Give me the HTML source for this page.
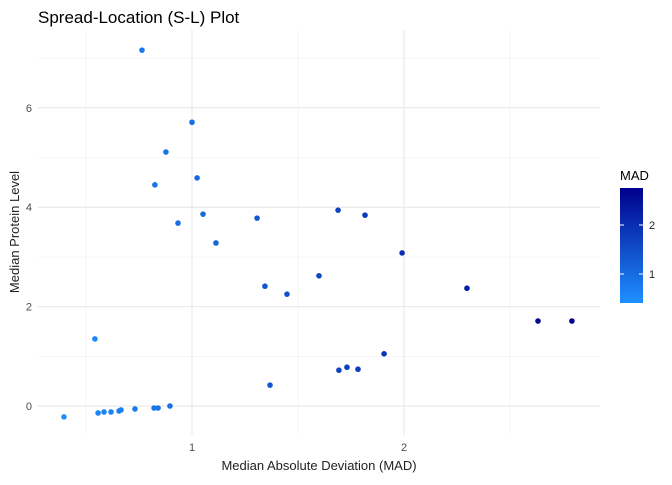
<!DOCTYPE html>
<html><head><meta charset="utf-8"><style>
body{margin:0;background:#fff;font-family:"Liberation Sans",sans-serif}
</style></head><body>
<svg id="chart" width="672" height="480" xmlns="http://www.w3.org/2000/svg">
<defs><linearGradient id="grad" x1="0" y1="1" x2="0" y2="0">
<stop offset="0" stop-color="#1E90FF"/><stop offset="1" stop-color="#00008B"/></linearGradient></defs>
<text x="38" y="23" font-size="17" fill="#000">Spread-Location (S-L) Plot</text>
<g id="grid"></g>
<g id="points"></g>
<text x="319" y="470" font-size="13" text-anchor="middle" fill="#222">Median Absolute Deviation (MAD)</text>
<text transform="translate(19,232) rotate(-90)" font-size="13" text-anchor="middle" fill="#222">Median Protein Level</text>
<g>
<text x="620" y="180" font-size="13" fill="#000">MAD</text>
<rect x="620" y="188" width="23" height="115" fill="url(#grad)"/>
<g id="legticks"></g>
</g>
</svg>
<script>
const madValues=[0.396,0.542,0.557,0.585,0.618,0.656,0.665,0.731,0.764,0.821,0.825,0.840,0.877,0.896,0.934,1.0,1.024,1.052,1.113,1.307,1.344,1.368,1.448,1.599,1.689,1.693,1.731,1.783,1.816,1.906,1.991,2.297,2.632,2.792];
const medianValues=[-0.22,1.35,-0.14,-0.12,-0.12,-0.10,-0.08,-0.06,7.16,-0.04,4.45,-0.04,5.11,0.0,3.68,5.71,4.59,3.86,3.28,3.78,2.41,0.42,2.25,2.62,3.94,0.72,0.78,0.74,3.84,1.05,3.08,2.37,1.71,1.71];
const xTicks=[1,2];
const xMinor=[0.5,1.5,2.5];
const yTicks=[0,2,4,6];
const yMinor=[1,3,5,7];
const legendTicks=[1,2];
const X=v=>-20+212*v, Y=v=>406-49.7*v;
const L=v=>274-49*(v-1);
const cmin=0.396,cmax=2.792;
const NS="http://www.w3.org/2000/svg";
function mk(t,a,p){const e=document.createElementNS(NS,t);for(const k in a)e.setAttribute(k,a[k]);p.appendChild(e);return e;}
const g=document.getElementById('grid'),pts=document.getElementById('points'),lt=document.getElementById('legticks');
xMinor.forEach(v=>{const e=mk('line',{x1:X(v),x2:X(v),y1:30,y2:435,stroke:'#f0f0f0','stroke-width':0.6},g);

});
yMinor.forEach(v=>{const e=mk('line',{x1:38,x2:600,y1:Y(v),y2:Y(v),stroke:'#f0f0f0','stroke-width':0.6},g);

});
xTicks.forEach(v=>{const e=mk('line',{x1:X(v),x2:X(v),y1:30,y2:435,stroke:'#e6e6e6','stroke-width':1},g);


const t=mk('text',{x:X(v),y:451,'font-size':11,'text-anchor':'middle',fill:'#4d4d4d'},g);t.textContent=v;

});
yTicks.forEach(v=>{const e=mk('line',{x1:38,x2:600,y1:Y(v),y2:Y(v),stroke:'#e6e6e6','stroke-width':1},g);


const t=mk('text',{x:32,y:Y(v)+4,'font-size':11,'text-anchor':'end',fill:'#4d4d4d'},g);t.textContent=v;

});
function col(v){const f=Math.max(0,Math.min(1,(v-cmin)/(cmax-cmin)));
const a=[0x1E,0x90,0xFF],b=[0,0,0x8B];return 'rgb('+a.map((c,i)=>Math.round(c+(b[i]-c)*f)).join(',')+')';}
madValues.forEach((m,i)=>{const c=mk('circle',{cx:X(m),cy:Y(medianValues[i]),r:2.8,fill:col(m)},pts);

});
legendTicks.forEach(v=>{mk('line',{x1:620,x2:624,y1:L(v),y2:L(v),stroke:'#fff','stroke-width':1},lt);
mk('line',{x1:639,x2:643,y1:L(v),y2:L(v),stroke:'#fff','stroke-width':1},lt);
const t=mk('text',{x:649,y:L(v)+4,'font-size':11,fill:'#222'},lt);t.textContent=v;

});
</script>
</body></html>
